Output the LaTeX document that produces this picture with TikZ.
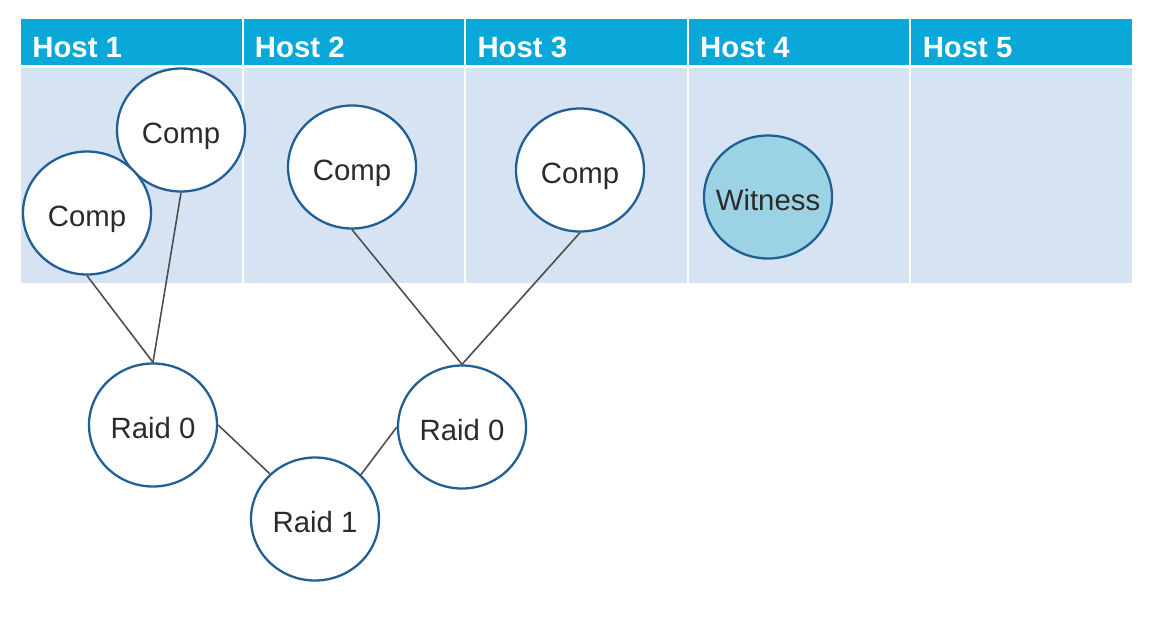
\documentclass[tikz,border=0pt]{standalone}
\usepackage{fontspec}
\setmainfont{Liberation Sans}
\usetikzlibrary{shapes.geometric}
\definecolor{hdr}{HTML}{09A8D9}
\definecolor{bodyc}{HTML}{D5E3F2}
\definecolor{ring}{HTML}{1F5F95}
\definecolor{wit}{HTML}{9BD3E5}
\definecolor{txt}{HTML}{2B2B2B}
\definecolor{link}{HTML}{4D4D4D}
\begin{document}
\begin{tikzpicture}[x=0.02cm,y=-0.02cm,
  hdrcell/.style={fill=hdr,draw=none},
  bodycell/.style={fill=bodyc,draw=none},
  hdrtext/.style={anchor=base west,inner sep=0pt,text=white,font=\fontsize{16.7pt}{18pt}\selectfont\bfseries},
  disk/.style={ellipse,draw=ring,line width=1.3pt,fill=white,minimum width=128*0.02cm,minimum height=123*0.02cm,inner xsep=-12pt,inner ysep=-4pt,text height=15pt,text depth=0pt,text=txt,font=\fontsize{16.7pt}{18pt}\selectfont},
  witdisk/.style={disk,fill=wit},
  conn/.style={draw=link,line width=0.9pt}]
\useasboundingbox (0,0) rectangle (1162,616);
\foreach \i [count=\n] in {0,...,4}{
  \pgfmathsetmacro{\xa}{20+\i*222.6+1}
  \pgfmathsetmacro{\xb}{20+(\i+1)*222.6-1}
  \fill[hdr] (\xa,19) rectangle (\xb,65);
  \fill[bodyc] (\xa,68) rectangle (\xb,283);
  \node[hdrtext] (h\n) at (\xa+11,57) {Host \n};
}
\node[disk] (compA) at (181,130) {Comp};
\node[disk] (compB) at (87,213) {Comp};
\node[disk] (comp2) at (352,167) {Comp};
\node[disk] (comp3) at (580,170) {Comp};
\node[witdisk] (wit) at (768,197) {Witness};
\node[disk] (r0a) at (153,425) {Raid 0};
\node[disk] (r0b) at (462,427) {Raid 0};
\node[disk] (r1) at (315,519) {Raid 1};
\draw[conn] (compA.south) -- (r0a.north);
\draw[conn] (compB.south) -- (r0a.north);
\draw[conn] (comp2.south) -- (r0b.north);
\draw[conn] (comp3.south) -- (r0b.north);
\draw[conn] (r0a.east) -- (r1.135);
\draw[conn] (r0b.west) -- (r1.44);
\end{tikzpicture}
\end{document}
